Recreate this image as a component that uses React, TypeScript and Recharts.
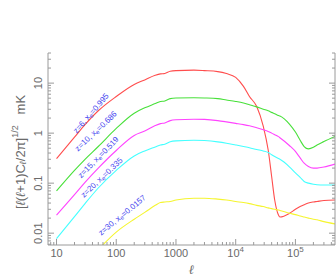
import { LineChart, Line, XAxis, YAxis, ReferenceDot, Label } from 'recharts'

// multipole l, shared by every curve
const ELL = [10, 20, 30, 50, 100, 200, 300, 450, 550, 650, 800, 1000, 2000, 3000, 5000, 7000, 1e4, 1.35e4, 1.7e4, 2.25e4, 2.9e4, 3.5e4, 4e4, 4.5e4, 5.2e4, 5.5e4, 8e4, 1e5, 1.2e5, 1.4e5, 1.65e5, 2e5, 2.3e5, 3e5, 4.6e5]

const Z6 = [0.31, 0.83, 1.48, 2.8, 5.4, 9.4, 11.6, 14.3, 15.3, 15.6, 17.2, 17.8, 18.2, 17.8, 17.0, 15.5, 13.0, 8.6, 5.4, 3.4, 1.36, 0.46, 0.136, 0.046, 0.023, 0.021, 0.025, 0.03, 0.034, 0.037, 0.04, 0.042, 0.043, 0.045, 0.046]
const Z10 = [0.07, 0.18, 0.3, 0.54, 1.24, 2.5, 3.2, 3.9, 4.3, 4.4, 4.9, 5.05, 5.1, 5.05, 4.9, 4.6, 4.3, 4.0, 3.7, 3.35, 3.0, 2.8, 2.6, 2.45, 2.25, 2.2, 1.5, 1.05, 0.72, 0.54, 0.485, 0.52, 0.58, 0.68, 0.86]
const Z15 = [0.023, 0.059, 0.104, 0.2, 0.45, 0.9, 1.1, 1.42, 1.55, 1.6, 1.78, 1.85, 1.9, 1.88, 1.78, 1.68, 1.57, 1.48, 1.4, 1.28, 1.17, 1.08, 1.0, 0.93, 0.85, 0.81, 0.56, 0.43, 0.32, 0.25, 0.215, 0.2, 0.2, 0.21, 0.24]
const Z20 = [0.0078, 0.0214, 0.039, 0.08, 0.18, 0.35, 0.44, 0.53, 0.58, 0.6, 0.67, 0.7, 0.72, 0.71, 0.67, 0.63, 0.58, 0.54, 0.51, 0.47, 0.44, 0.41, 0.37, 0.34, 0.31, 0.3, 0.21, 0.16, 0.13, 0.108, 0.1, 0.095, 0.093, 0.092, 0.092]
const Z30 = [null, null, null, 0.0047, 0.0105, 0.019, 0.026, 0.036, 0.041, 0.042, 0.043, 0.046, 0.05, 0.05, 0.048, 0.046, 0.043, 0.041, 0.039, 0.036, 0.034, 0.032, 0.031, 0.03, 0.029, 0.0285, 0.025, 0.0235, 0.022, 0.021, 0.02, 0.019, 0.0185, 0.017, 0.0153]

const SERIES = [
  { key: 'z6', values: Z6, color: '#ff4d4d' },
  { key: 'z10', values: Z10, color: '#48e03a' },
  { key: 'z15', values: Z15, color: '#ff44ff' },
  { key: 'z20', values: Z20, color: '#44ffff' },
  { key: 'z30', values: Z30, color: '#f5f530' },
]

// curve labels: [z, x_e, anchor l, anchor value, angle]
const NOTES: [string, string, number, number, number][] = [
  ['6', '0.995', 37.6, 2.5, -50],
  ['10', '0.686', 45.5, 1.1, -44],
  ['15', '0.519', 50, 0.33, -46],
  ['20', '0.335', 57, 0.13, -44],
  ['30', '0.0157', 125, 0.023, -40],
]

const X_DOMAIN = [7.2, 4.6e5]
const Y_DOMAIN = [0.0058, 40]

const logTicks = (lo: number, hi: number) => {
  const out: number[] = []
  for (let d = Math.floor(Math.log10(lo)); d <= Math.ceil(Math.log10(hi)); d++) {
    for (let m = 1; m <= 9; m++) {
      const v = +(m * Math.pow(10, d)).toPrecision(6)
      if (v >= lo && v <= hi) out.push(v)
    }
  }
  return out
}
const X_TICKS = logTicks(X_DOMAIN[0], X_DOMAIN[1])
const Y_TICKS = logTicks(Y_DOMAIN[0], Y_DOMAIN[1])

const data = ELL.map((ell, i) => {
  const row: Record<string, number | null> = { ell }
  SERIES.forEach((s) => { row[s.key] = s.values[i] })
  return row
})

const FRAME = '#9a9a9a'
const TEXT = '#6a6a6a'
const FONT = 'Liberation Sans, Arial, sans-serif'

const isMajor = (v: number) => Math.abs(Math.log10(v) - Math.round(Math.log10(v))) < 1e-6

function XTick({ x, y, payload, side }: any) {
  const v = payload.value
  const len = isMajor(v) ? 6 : 3
  const dir = side === 'bottom' ? -1 : 1
  const e = Math.round(Math.log10(v))
  return (
    <g>
      <line x1={x} x2={x} y1={y} y2={y + dir * len} stroke={FRAME} />
      {side === 'bottom' && isMajor(v) && (
        <text x={x} y={y + 12} textAnchor="middle" fontSize={11} fill={TEXT} fontFamily={FONT}>
          {e <= 3 ? String(Math.pow(10, e)) : <>10<tspan dy={-5} fontSize={8}>{e}</tspan></>}
        </text>
      )}
    </g>
  )
}

function YTick({ x, y, payload, side }: any) {
  const v = payload.value
  const len = isMajor(v) ? 6 : 3
  const dir = side === 'left' ? 1 : -1
  const lx = x - 10
  return (
    <g>
      <line x1={x} x2={x + dir * len} y1={y} y2={y} stroke={FRAME} />
      {side === 'left' && isMajor(v) && (
        <text x={lx} y={y} transform={`rotate(-90 ${lx} ${y})`} textAnchor="middle" dominantBaseline="central"
          fontSize={11} fill={TEXT} fontFamily={FONT}>
          {String(v)}
        </text>
      )}
    </g>
  )
}

function YTitle({ viewBox }: any) {
  const cx = viewBox.x + 20
  const cy = viewBox.y + viewBox.height / 2 + 3
  return (
    <text x={cx} y={cy} transform={`rotate(-90 ${cx} ${cy})`} textAnchor="middle" dominantBaseline="central"
      fontSize={13} fill={TEXT} fontFamily={FONT}>
      [<tspan fontStyle="italic">ℓ</tspan>(<tspan fontStyle="italic">ℓ</tspan>+1)C<tspan dy={3} fontSize={9} fontStyle="italic">ℓ</tspan>
      <tspan dy={-3}>/2π]</tspan><tspan dy={-5} fontSize={9}>1/2</tspan><tspan dy={5}>{'\u00a0\u00a0\u00a0mK'}</tspan>
    </text>
  )
}

function Note({ cx, cy, z, xe, angle }: any) {
  return (
    <text x={cx} y={cy} transform={`rotate(${angle} ${cx} ${cy})`} textAnchor="middle" dominantBaseline="central"
      fontSize={8} fill="#4646f0" fontFamily={FONT}>
      z={z}, x<tspan dy={2} fontSize={6}>e</tspan><tspan dy={-2}>={xe}</tspan>
    </text>
  )
}

export default function App() {
  return (
    <div style={{ position: 'absolute', left: 0, top: 0, background: '#fff' }}>
      <LineChart width={336} height={278} data={data} margin={{ top: 53, right: 0, bottom: 0, left: 0 }}>
        <XAxis xAxisId="b" dataKey="ell" type="number" scale="log" domain={X_DOMAIN} allowDataOverflow
          ticks={X_TICKS} interval={0} tickSize={0} tickMargin={0} tickLine={false} height={33}
          axisLine={{ stroke: FRAME }} tick={<XTick side="bottom" />}>
          <Label value="ℓ" position="insideBottom" offset={4} fontSize={13} fontStyle="italic" fill={TEXT} />
        </XAxis>
        <XAxis xAxisId="t" orientation="top" dataKey="ell" type="number" scale="log" domain={X_DOMAIN} allowDataOverflow
          ticks={X_TICKS} interval={0} tickSize={0} tickMargin={0} tickLine={false} height={0}
          axisLine={{ stroke: FRAME }} tick={<XTick side="top" />} />
        <YAxis yAxisId="l" type="number" scale="log" domain={Y_DOMAIN} allowDataOverflow
          ticks={Y_TICKS} interval={0} tickSize={0} tickMargin={0} tickLine={false} width={48}
          axisLine={{ stroke: FRAME }} tick={<YTick side="left" />}>
          <Label content={<YTitle />} />
        </YAxis>
        <YAxis yAxisId="r" orientation="right" type="number" scale="log" domain={Y_DOMAIN} allowDataOverflow
          ticks={Y_TICKS} interval={0} tickSize={0} tickMargin={0} tickLine={false} width={1}
          axisLine={{ stroke: FRAME }} tick={<YTick side="right" />} />
        {SERIES.map((s) => (
          <Line key={s.key} xAxisId="b" yAxisId="l" type="monotone" dataKey={s.key} stroke={s.color}
            strokeWidth={1.1} dot={false} activeDot={false} isAnimationActive={false} />
        ))}
        {NOTES.map(([z, xe, l, v, a]) => (
          <ReferenceDot key={z} xAxisId="b" yAxisId="l" x={l} y={v} r={0}
            shape={(p: any) => <Note cx={p.cx} cy={p.cy} z={z} xe={xe} angle={a} />} />
        ))}
      </LineChart>
    </div>
  )
}
